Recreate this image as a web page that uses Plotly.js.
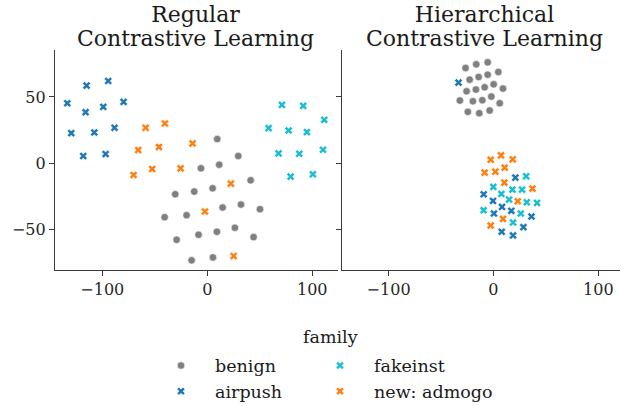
<!DOCTYPE html>
<html>
<head>
<meta charset="utf-8">
<script src="https://cdn.plot.ly/plotly-3.0.1.min.js"></script>
<style>html,body{margin:0;padding:0;background:#fff}#chart{width:621px;height:406px}</style>
</head>
<body>
<div id="chart"></div>
<script>
// Regular Contrastive Learning (left panel)
const regBenignX = [9.5, 29.5, -6.0, 11.4, 41.3, -30.5, -12.4, 5.1, 14.6, 32.1, 50.2, -40.6, -19.7, -8.3, 9.2, 26.3, 44.1, -29.2, -14.9, 5.4];
const regBenignY = [18.25, 5.5, -3.75, -1, -12.75, -23.25, -21.25, -18.75, -33.25, -31, -34.5, -40.5, -39, -53.75, -51.5, -48.5, -55.5, -57.5, -73, -70.75];
const regAirpushX = [-133.3, -114.9, -94.3, -115.9, -99.0, -79.7, -129.5, -107.6, -88.3, -118.1, -96.8];
const regAirpushY = [45.25, 58.5, 62, 38.5, 42.5, 46.25, 22.75, 23.25, 26.75, 5.5, 7];
const regFakeinstX = [71.1, 91.4, 111.4, 58.4, 77.5, 94.9, 67.9, 87.6, 110.2, 79.4, 100.6];
const regFakeinstY = [44, 43.25, 32.75, 26.5, 24.75, 23.5, 7.5, 7.25, 10.25, -10, -8.25];
const regAdmogoX = [-58.7, -40.3, -65.7, -46.0, -14.0, -70.2, -52.4, -25.4, 22.5, -2.2, 25.1];
const regAdmogoY = [26.75, 30, 10, 12.25, 15, -8.75, -4.25, -3.75, -15.25, -36.25, -69.75];

// Hierarchical Contrastive Learning (right panel)
const hierBenignX = [-26.6, -16.4, -5.5, -22.7, -14.1, -5.5, 4.7, -25.6, -16.7, -8.4, 0.2, 9.1, -32.0, -19.6, -10.6, -2.0, 6.0, -24.4, -13.5, -3.6];
const hierBenignY = [71.75, 74.5, 76, 63, 65, 66.75, 68.75, 54.25, 55.5, 57.25, 59.5, 56.25, 47.25, 46.75, 47.5, 50.25, 45.25, 38.75, 37.75, 39.75];
const hierAirpushX = [-33.3, 20.9, -9.3, -0.4, 8.2, 17.1, 0.5, 36.3, 28.6, 7.9, 18.7];
const hierAirpushY = [60.75, -10.75, -23.25, -28.25, -32.75, -35.75, -37.75, -40, -48, -51.5, -54.25];
const hierFakeinstX = [31.2, -0.1, 18.1, 27.3, 7.6, 14.9, 31.8, 41.6, -9.4, 26.1, 18.7];
const hierFakeinstY = [-9.75, -17.75, -19.75, -19.75, -23, -27.25, -29.25, -29.75, -35.25, -37.75, -44.5];
const hierAdmogoX = [-2.6, 7.2, 18.4, -8.4, 1.8, 10.7, 10.4, 37.2, 23.2, 9.1, -2.6];
const hierAdmogoY = [2.75, 6, 3, -7, -6.25, -3.25, -14.5, -19, -28.5, -41.75, -46.75];

const families = ['benign', 'airpush', 'fakeinst', 'new: admogo'];
const panelTitles = [['Regular', 'Contrastive Learning'], ['Hierarchical', 'Contrastive Learning']];
const legendTitle = 'family';
const xTicks = [-100, 0, 100];
const yTicks = [-50, 0, 50];

const colors = {'benign': '#808080', 'airpush': '#1f77b4', 'fakeinst': '#17becf', 'new: admogo': '#ff7f0e'};
const symbols = {'benign': 'circle', 'airpush': 'x', 'fakeinst': 'x', 'new: admogo': 'x'};
const legendOf = {'benign': 'legend', 'airpush': 'legend', 'fakeinst': 'legend2', 'new: admogo': 'legend2'};

const panels = [
  {xa: 'x', ya: 'y', data: {'benign': [regBenignX, regBenignY], 'airpush': [regAirpushX, regAirpushY], 'fakeinst': [regFakeinstX, regFakeinstY], 'new: admogo': [regAdmogoX, regAdmogoY]}},
  {xa: 'x2', ya: 'y2', data: {'benign': [hierBenignX, hierBenignY], 'airpush': [hierAirpushX, hierAirpushY], 'fakeinst': [hierFakeinstX, hierFakeinstY], 'new: admogo': [hierAdmogoX, hierAdmogoY]}}
];

const traces = [];
panels.forEach((p, pi) => {
  families.forEach(f => {
    traces.push({
      type: 'scatter', mode: 'markers',
      x: p.data[f][0], y: p.data[f][1],
      xaxis: p.xa, yaxis: p.ya,
      name: f,
      legend: legendOf[f],
      showlegend: pi === 0,
      marker: {color: colors[f], symbol: symbols[f], size: f === 'benign' ? 7.5 : 7.2, line: {color: '#ffffff', width: 0.6}},
      hoverinfo: 'skip'
    });
  });
});

const SERIF = 'DejaVu Serif';
const fmt = v => v < 0 ? '\u2212' + Math.abs(v) : String(v);
const axisCommon = {
  showgrid: false, zeroline: false, showline: true, linecolor: '#3a3a3a', linewidth: 1.1,
  ticks: 'outside', ticklen: 5, tickwidth: 1.1, tickcolor: '#3a3a3a',
  tickfont: {family: SERIF, size: 16, color: '#262626'}, mirror: false
};

const annotations = [];
const centers = [(195.9 - 55) / 565, (484.2 - 55) / 565];
panelTitles.forEach((t, i) => {
  annotations.push({
    xref: 'paper', yref: 'paper', x: centers[i], y: (270 - 26.1) / 220,
    text: t.map(s => '<span style="font-size:22px">' + s + '</span>').join('<br>'),
    showarrow: false, xanchor: 'center', yanchor: 'middle', align: 'center', borderpad: 0,
    font: {family: SERIF, size: 24 / 1.3, color: '#1a1a1a'}
  });
});
annotations.push({xref: 'paper', yref: 'paper', x: (330 - 55) / 565, y: (270 - 337) / 220, text: legendTitle, showarrow: false, xanchor: 'center', yanchor: 'middle', font: {family: SERIF, size: 17.5, color: '#1a1a1a'}});

const legendCommon = {
  orientation: 'v', yanchor: 'top', xanchor: 'left', bgcolor: 'rgba(0,0,0,0)', borderwidth: 0,
  font: {family: SERIF, size: 17.5, color: '#1a1a1a'}, itemwidth: 58, tracegroupgap: 0
};
const legendY = (270 - 347.6) / 220;

const layout = {
  width: 621, height: 406,
  margin: {l: 55, r: 1, t: 50, b: 136, pad: 0, autoexpand: false},
  paper_bgcolor: '#ffffff', plot_bgcolor: '#ffffff',
  showlegend: true,
  xaxis: Object.assign({}, axisCommon, {domain: [0, 0.5009], range: [-145, 124.5], tickvals: xTicks, ticktext: xTicks.map(fmt), anchor: 'y'}),
  yaxis: Object.assign({}, axisCommon, {range: [-80.25, 85.3], tickvals: yTicks, ticktext: yTicks.map(fmt), anchor: 'x'}),
  xaxis2: Object.assign({}, axisCommon, {domain: [0.508, 1], range: [-144.4, 120.7], tickvals: xTicks, ticktext: xTicks.map(fmt), anchor: 'y2'}),
  yaxis2: Object.assign({}, axisCommon, {range: [-80.25, 85.3], tickvals: yTicks, showticklabels: false, anchor: 'x2'}),
  legend: Object.assign({}, legendCommon, {x: (147 - 55) / 565, y: legendY}),
  legend2: Object.assign({}, legendCommon, {x: (306 - 55) / 565, y: legendY}),
  annotations: annotations
};

Plotly.newPlot('chart', traces, layout, {staticPlot: true, displayModeBar: false});
</script>
</body>
</html>
